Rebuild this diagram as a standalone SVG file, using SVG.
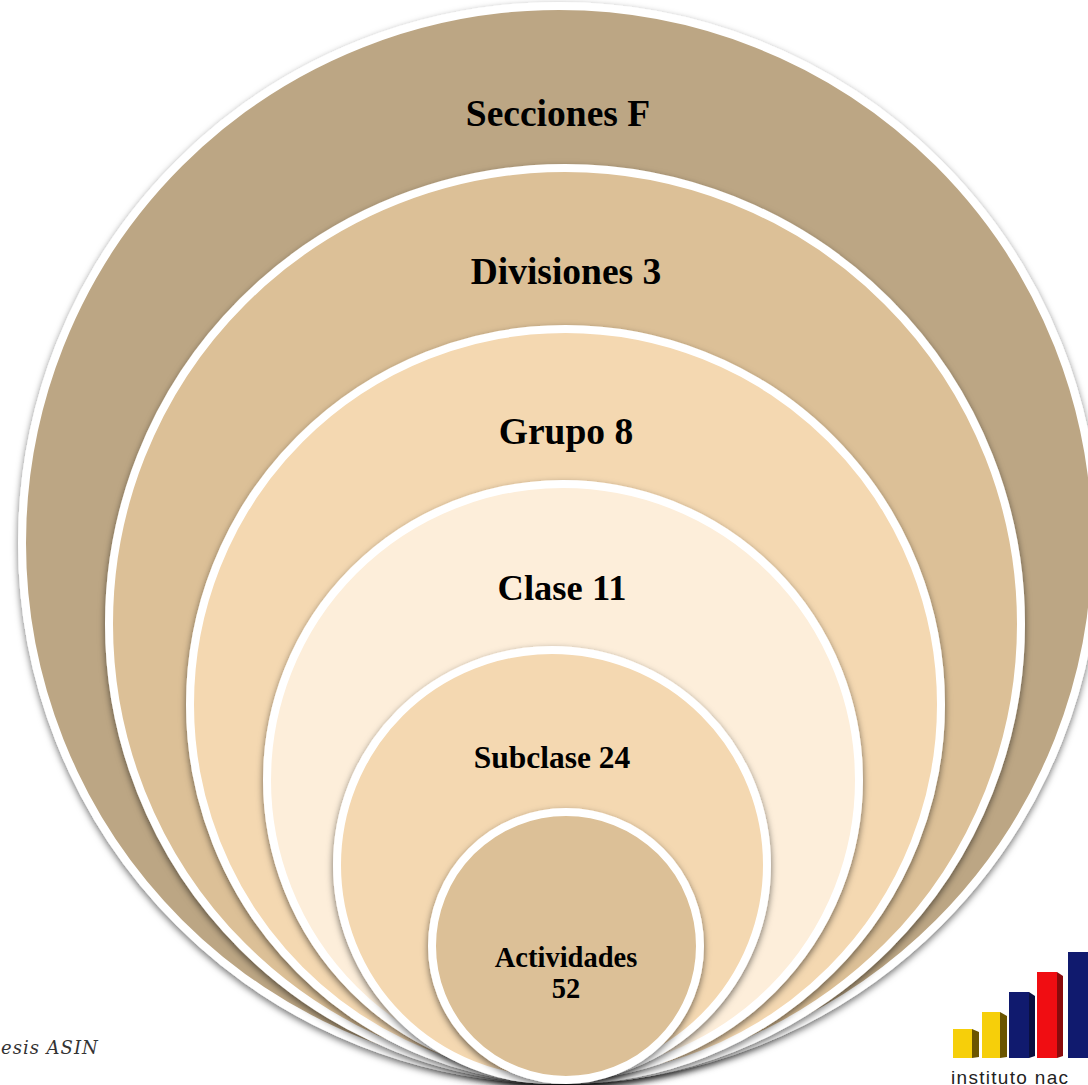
<svg xmlns="http://www.w3.org/2000/svg" width="1088" height="1085" viewBox="0 0 1088 1085">
<defs>
<filter id="sh" x="-5%" y="-5%" width="110%" height="110%"><feDropShadow dx="0" dy="3" stdDeviation="3.5" flood-color="#000" flood-opacity="0.55"/></filter>
</defs>
<style>
.c{stroke:#fff;stroke-width:8;filter:url(#sh)}
.t{font-family:"Liberation Serif",serif;font-weight:700;fill:#000;text-anchor:middle}
.l{font-size:37.500px}
.s{font-size:31.500px}
.a{font-size:28.500px}
</style>
<rect width="1088" height="1085" fill="#fff"/>
<g id="credit"><text x="1" y="1054" font-family="'DejaVu Serif',serif" font-style="italic" font-size="18" letter-spacing="1" fill="#333">esis ASIN</text></g>
<g id="logo">
<rect x="953" y="1029" width="19" height="29" fill="#f6cf0a"/><polygon points="972,1029 979,1032 979,1057 972,1058" fill="#6b5500"/>
<rect x="982" y="1012" width="18" height="46" fill="#f6cf0a"/><polygon points="1000,1012 1007,1016 1007,1057 1000,1058" fill="#6b5500"/>
<rect x="1009" y="992" width="20" height="66" fill="#101a6e"/><polygon points="1029,992 1035,996 1035,1056 1029,1058" fill="#0a1040"/>
<rect x="1037" y="972" width="20" height="86" fill="#f00d12"/><polygon points="1057,972 1063,976 1063,1056 1057,1058" fill="#8a0a0c"/>
<rect x="1068" y="952" width="20" height="106" fill="#101a6e"/>
<text x="951" y="1084" font-family="'Liberation Sans',sans-serif" font-size="19" letter-spacing="1.300" fill="#222">instituto nac</text>
</g>
<g id="secciones"><circle class="c" cx="559" cy="543" r="537" fill="#bca684"/><text class="t l" x="558" y="126">Secciones F</text></g>
<g id="divisiones"><circle class="c" cx="565" cy="624" r="456" fill="#dcc097"/><text class="t l" x="566" y="284">Divisiones 3</text></g>
<g id="grupo"><circle class="c" cx="565.500" cy="704.500" r="375.500" fill="#f4d8b1"/><text class="t l" x="566" y="444">Grupo 8</text></g>
<g id="clase"><circle class="c" cx="563" cy="780" r="296" fill="#fdeeda"/><text class="t l" x="562" y="600" style="font-size:36.500px">Clase 11</text></g>
<g id="subclase"><circle class="c" cx="552" cy="865" r="215" fill="#f4d8b1"/><text class="t s" x="552" y="768">Subclase 24</text></g>
<g id="actividades"><circle class="c" cx="566" cy="946" r="134" fill="#dcc097"/><text class="t a" x="566" y="967">Actividades</text><text class="t a" x="566" y="998">52</text></g>
<g id="connectors"/>
</svg>
